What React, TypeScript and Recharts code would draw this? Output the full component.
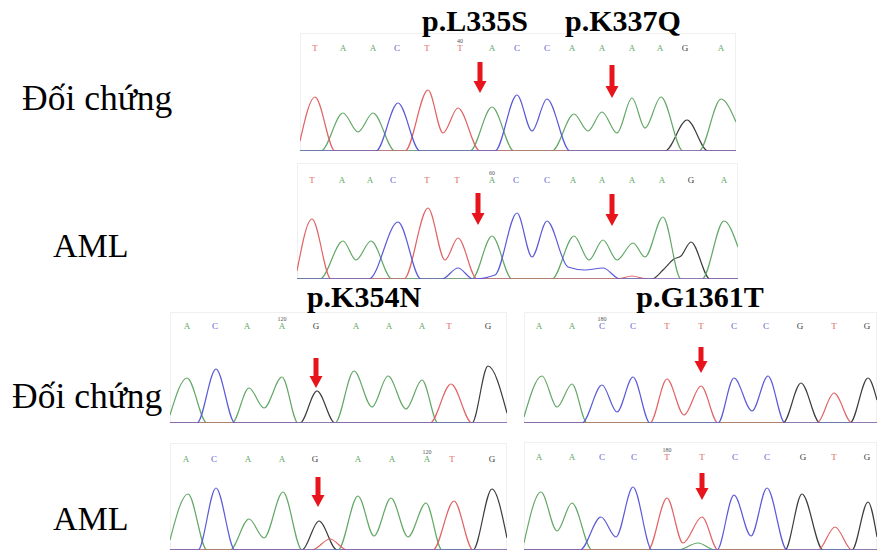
import React from "react";
import { LineChart, Line, XAxis, YAxis, ReferenceLine } from "recharts";

// base call colours, as in the sequencing software
const BASE_COLORS: Record<string, string> = {
  A: "#62a866",
  C: "#5a5ad8",
  G: "#3c3c3c",
  T: "#e06464",
};

const mutationLabels = ["p.L335S", "p.K337Q", "p.K354N", "p.G1361T"];
const groupLabels = ["Đối chứng", "AML"];

// exon fragment 1 (top panels)
const frag1Bases = ["T", "A", "A", "C", "T", "T", "A", "C", "C", "A", "A", "A", "A", "G", "A"];
const frag2Bases = ["A", "C", "A", "A", "G", "A", "A", "A", "T", "G"];
const frag3Bases = ["A", "A", "C", "C", "T", "T", "C", "C", "G", "T", "G"];

// [scan, signal]
const ctrl1Pos = [15, 43, 73, 97, 127, 160, 192, 217, 247, 272, 302, 332, 360, 385, 421];
const ctrl1A = [[0, 0], [21, 0], [43, 38], [58, 19], [73, 38], [95, 0], [170, 0], [192, 44], [214, 0], [252, 0], [274, 37], [288, 20], [302, 39], [317, 18], [332, 53], [345, 23], [361, 54], [383, 0], [399, 0], [421, 52], [436, 29]];
const ctrl1C = [[0, 0], [76, 0], [98, 48], [120, 0], [195, 0], [217, 56], [232, 20], [247, 52], [270, 0], [436, 0]];
const ctrl1G = [[0, 0], [365, 0], [387, 31], [408, 0], [436, 0]];
const ctrl1T = [[0, 10], [15, 54], [35, 0], [105, 0], [128, 61], [143, 18], [158, 43], [180, 0], [436, 0]];

const aml1Pos = [15, 45, 73, 96, 130, 160, 195, 219, 250, 276, 305, 335, 365, 394, 427];
const aml1A = [[0, 0], [23, 0], [46, 38], [59, 19], [74, 38], [95, 0], [175, 0], [195, 43], [215, 0], [255, 0], [277, 43], [292, 19], [306, 39], [320, 19], [336, 36], [348, 22], [366, 62], [384, 0], [405, 0], [427, 58], [441, 32]];
const aml1C = [[0, 0], [72, 0], [101, 57], [124, 0], [145, 0], [161, 11], [176, 0], [198, 4], [220, 66], [235, 22], [250, 58], [271, 12], [288, 9], [306, 11], [323, 0], [441, 0]];
const aml1G = [[0, 0], [355, 0], [366, 9], [377, 20], [384, 23], [394, 37], [413, 0], [441, 0]];
const aml1T = [[0, 8], [15, 60], [34, 0], [107, 0], [131, 71], [148, 19], [161, 41], [180, 0], [320, 0], [335, 3], [350, 0], [441, 0]];

const ctrl2Pos = [17, 45, 77, 112, 146, 186, 219, 252, 279, 318];
const ctrl2A = [[0, 8], [17, 45], [37, 0], [62, 0], [79, 35], [94, 15], [112, 46], [128, 0], [165, 0], [184, 52], [202, 16], [218, 47], [236, 14], [252, 43], [268, 0], [337, 0]];
const ctrl2C = [[0, 0], [27, 0], [46, 54], [65, 0], [337, 0]];
const ctrl2G = [[0, 0], [130, 0], [147, 32], [165, 0], [302, 0], [318, 57], [337, 10]];
const ctrl2T = [[0, 0], [260, 0], [281, 39], [302, 0], [337, 0]];

const aml2Pos = [16, 44, 78, 112, 145, 188, 222, 257, 282, 322];
const aml2A = [[0, 10], [18, 56], [37, 0], [60, 0], [79, 31], [94, 12], [113, 58], [132, 0], [168, 0], [188, 54], [204, 14], [221, 52], [238, 13], [256, 47], [272, 0], [337, 0]];
const aml2C = [[0, 0], [28, 0], [46, 62], [65, 0], [337, 0]];
const aml2G = [[0, 0], [132, 0], [149, 29], [167, 0], [303, 0], [322, 61], [337, 12]];
const aml2T = [[0, 0], [142, 0], [160, 11], [177, 0], [263, 0], [284, 49], [303, 0], [337, 0]];

const ctrl3Pos = [15, 48, 78, 109, 143, 177, 210, 242, 276, 310, 343];
const ctrl3A = [[0, 6], [18, 47], [33, 16], [48, 39], [63, 0], [353, 0]];
const ctrl3C = [[0, 0], [58, 0], [78, 38], [93, 11], [109, 46], [126, 0], [194, 0], [210, 45], [228, 12], [244, 47], [261, 0], [353, 0]];
const ctrl3G = [[0, 0], [259, 0], [277, 40], [296, 0], [326, 0], [344, 45], [353, 23]];
const ctrl3T = [[0, 0], [126, 0], [143, 44], [160, 8], [177, 37], [194, 0], [293, 0], [310, 30], [328, 0], [353, 0]];

const aml3Pos = [15, 48, 78, 110, 143, 178, 211, 243, 279, 310, 343];
const aml3A = [[0, 7], [17, 58], [33, 19], [48, 47], [68, 0], [154, 0], [174, 7], [191, 0], [353, 0]];
const aml3C = [[0, 0], [56, 0], [77, 33], [92, 13], [109, 63], [128, 0], [193, 0], [210, 55], [227, 14], [243, 62], [263, 0], [353, 0]];
const aml3G = [[0, 0], [261, 0], [278, 56], [299, 0], [328, 0], [344, 48], [353, 13]];
const aml3T = [[0, 0], [124, 0], [143, 52], [159, 7], [178, 33], [194, 0], [294, 0], [311, 23], [328, 0], [353, 0]];

// mutation arrows: [scan, from signal, to signal]
const ctrl1Arrows = [[180, 89, 58], [312, 86, 53]];
const aml1Arrows = [[181, 86, 54], [315, 85, 53]];
const ctrl2Arrows = [[146, 65, 35]];
const aml2Arrows = [[148, 73, 43]];
const ctrl3Arrows = [[177, 76, 50]];
const aml3Arrows = [[178, 77, 50]];

const toPts = (arr: number[][]) => arr.map(([scan, signal]) => ({ scan, signal }));

const Arrow = (props: any) => {
  const { x1, y1, y2 } = props;
  const head = 12;
  return (
    <g>
      <rect x={x1 - 2.5} y={y1} width={5} height={y2 - y1 - head + 1} fill="#e8141c" />
      <polygon
        points={`${x1 - 6.5},${y2 - head} ${x1 + 6.5},${y2 - head} ${x1},${y2}`}
        fill="#e8141c"
      />
    </g>
  );
};

type PanelProps = {
  left: number;
  top: number;
  width: number;
  height: number;
  axisH: number;
  bases: string[];
  pos: number[];
  num: string;
  numAt: number;
  A: number[][];
  C: number[][];
  G: number[][];
  T: number[][];
  arrows: number[][];
};

function Panel(p: PanelProps) {
  const plotH = p.height - p.axisH;
  const BaseTick = (props: any) => {
    const { x, y, index } = props;
    const b = p.bases[index];
    return (
      <g>
        {index === p.numAt && (
          <text x={x} y={y - 8.5} textAnchor="middle" fontSize={6} fill="#555" fontFamily="Liberation Serif">
            {p.num}
          </text>
        )}
        <text x={x} y={y} textAnchor="middle" fontSize={9} fill={BASE_COLORS[b]} fontFamily="Liberation Serif">
          {b}
        </text>
      </g>
    );
  };
  const channels: [string, number[][]][] = [
    ["G", p.G],
    ["A", p.A],
    ["T", p.T],
    ["C", p.C],
  ];
  return (
    <div
      style={{
        position: "absolute",
        left: p.left,
        top: p.top,
        width: p.width,
        height: p.height,
        boxShadow: "inset 0 0 0 1px #f0f0f0",
      }}
    >
      <LineChart width={p.width} height={p.height} margin={{ top: 0, right: 0, bottom: 0, left: 0 }}>
        <XAxis
          type="number"
          dataKey="scan"
          orientation="top"
          domain={[0, p.width]}
          ticks={p.pos}
          interval={0}
          height={p.axisH}
          axisLine={false}
          tickLine={false}
          tickSize={0}
          tickMargin={0}
          tick={<BaseTick />}
          allowDataOverflow
        />
        <YAxis type="number" domain={[0, plotH]} hide allowDataOverflow />
        {channels.map(([base, pts]) => (
          <Line
            key={base}
            data={toPts(pts)}
            dataKey="signal"
            type="monotone"
            stroke={BASE_COLORS[base]}
            strokeWidth={1.2}
            dot={false}
            isAnimationActive={false}
          />
        ))}
        {p.arrows.map(([s, from, to], i) => (
          <ReferenceLine
            key={i}
            segment={[
              { x: s, y: from },
              { x: s, y: to },
            ]}
            shape={Arrow}
            ifOverflow="visible"
          />
        ))}
      </LineChart>
    </div>
  );
}

export default function App() {
  return (
    <div style={{ position: "absolute", left: 0, top: 0, width: 877, height: 551, background: "#fff", overflow: "hidden" }}>
      <Panel left={300} top={33} width={436} height={118} axisH={18} bases={frag1Bases} pos={ctrl1Pos} num="40" numAt={5} A={ctrl1A} C={ctrl1C} G={ctrl1G} T={ctrl1T} arrows={ctrl1Arrows} />
      <Panel left={297} top={163} width={441} height={116} axisH={20} bases={frag1Bases} pos={aml1Pos} num="60" numAt={6} A={aml1A} C={aml1C} G={aml1G} T={aml1T} arrows={aml1Arrows} />
      <Panel left={170} top={312} width={337} height={111} axisH={17} bases={frag2Bases} pos={ctrl2Pos} num="120" numAt={3} A={ctrl2A} C={ctrl2C} G={ctrl2G} T={ctrl2T} arrows={ctrl2Arrows} />
      <Panel left={524} top={312} width={353} height={111} axisH={17} bases={frag3Bases} pos={ctrl3Pos} num="180" numAt={2} A={ctrl3A} C={ctrl3C} G={ctrl3G} T={ctrl3T} arrows={ctrl3Arrows} />
      <Panel left={170} top={443} width={337} height={107} axisH={19} bases={frag2Bases} pos={aml2Pos} num="120" numAt={7} A={aml2A} C={aml2C} G={aml2G} T={aml2T} arrows={aml2Arrows} />
      <Panel left={524} top={442} width={353} height={108} axisH={18} bases={frag3Bases} pos={aml3Pos} num="180" numAt={4} A={aml3A} C={aml3C} G={aml3G} T={aml3T} arrows={aml3Arrows} />
      <svg width={877} height={551} style={{ position: "absolute", left: 0, top: 0, pointerEvents: "none" }}>
        <g fontFamily="Liberation Serif, Times New Roman, serif" fill="#000">
          <text x={475} y={31} textAnchor="middle" fontSize={30} fontWeight="bold">{mutationLabels[0]}</text>
          <text x={623} y={31} textAnchor="middle" fontSize={30} fontWeight="bold">{mutationLabels[1]}</text>
          <text x={364} y={307} textAnchor="middle" fontSize={30} fontWeight="bold">{mutationLabels[2]}</text>
          <text x={700} y={307} textAnchor="middle" fontSize={30} fontWeight="bold">{mutationLabels[3]}</text>
          <text x={22} y={110} fontSize={35.5}>{groupLabels[0]}</text>
          <text x={53} y={257} fontSize={34}>{groupLabels[1]}</text>
          <text x={12} y={408} fontSize={35.5}>{groupLabels[0]}</text>
          <text x={53} y={530} fontSize={34}>{groupLabels[1]}</text>
        </g>
      </svg>
    </div>
  );
}
